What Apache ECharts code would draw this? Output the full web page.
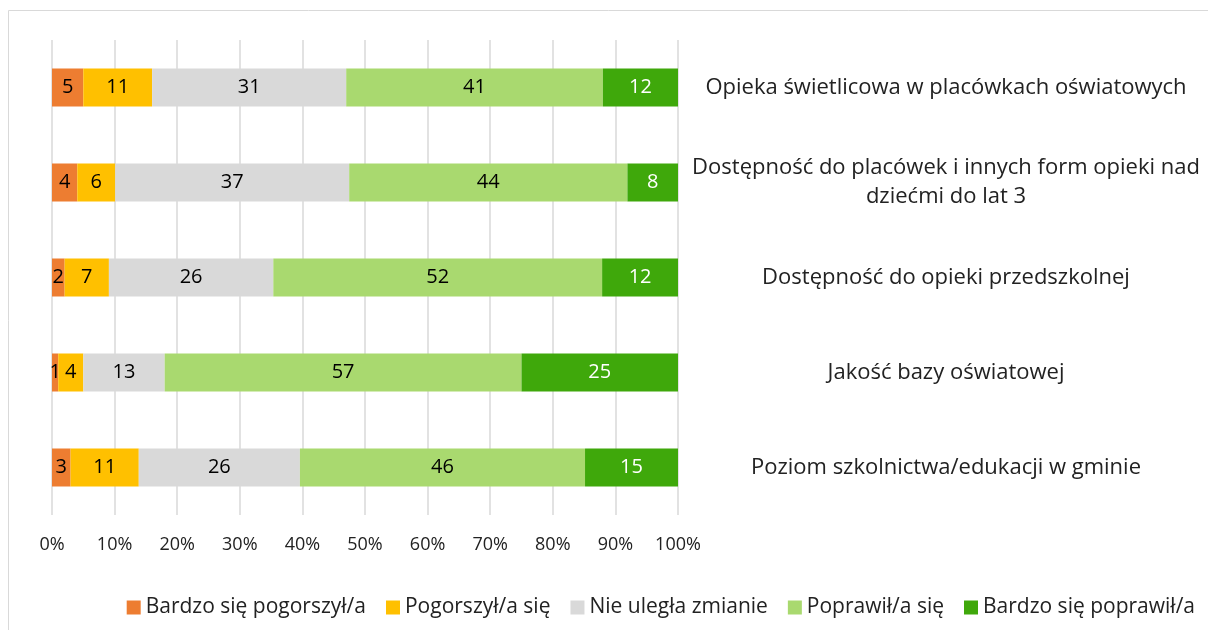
<!DOCTYPE html>
<html>
<head>
<meta charset="utf-8">
<script src="https://cdn.jsdelivr.net/npm/echarts@6/dist/echarts.min.js"></script>
<style>
  html, body { margin: 0; padding: 0; background: #fff; }
  #chart { width: 1208px; height: 630px; }
</style>
</head>
<body>
<div id="chart"></div>
<script>
// categories, top to bottom
const categories = [
  'Opieka świetlicowa w placówkach oświatowych',
  'Dostępność do placówek i innych form opieki nad\ndziećmi do lat 3',
  'Dostępność do opieki przedszkolnej',
  'Jakość bazy oświatowej',
  'Poziom szkolnictwa/edukacji w gminie'
]
const seriesNames = [
  'Bardzo się pogorszył/a',
  'Pogorszył/a się',
  'Nie uległa zmianie',
  'Poprawił/a się',
  'Bardzo się poprawił/a'
]
const bardzoGorzej = [5, 4, 2, 1, 3]
const gorzej = [11, 6, 7, 4, 11]
const bezZmian = [31, 37, 26, 13, 26]
const lepiej = [41, 44, 52, 57, 46]
const bardzoLepiej = [12, 8, 12, 25, 15]
const tickLabels = ['0%', '10%', '20%', '30%', '40%', '50%', '60%', '70%', '80%', '90%', '100%']

const colors = ['#ED7D31', '#FFC000', '#D9D9D9', '#A9D96F', '#3FA80B']
const labelColors = ['#000', '#000', '#000', '#000', '#fff']
const FONT = 'Open Sans'

const raw = [bardzoGorzej, gorzej, bezZmian, lepiej, bardzoLepiej]
// bars are shown as share of the row total (100% stacked)
const totals = categories.map((c, i) => raw.reduce((s, arr) => s + arr[i], 0))

const chart = echarts.init(document.getElementById('chart'))

const series = raw.map((arr, k) => {
  return {
    type: 'bar',
    name: seriesNames[k],
    stack: 'all',
    barWidth: '40%',
    data: arr.map((v, i) => ({ value: v / totals[i] * 100, raw: v })),
    itemStyle: { color: colors[k] },
    label: {
      show: true,
      position: 'inside',
      fontFamily: FONT,
      fontSize: 20,
      color: labelColors[k],
      formatter: p => p.data.raw
    }
  }
})

chart.setOption({
  animation: false,
  color: colors,
  graphic: [{
    type: 'rect',
    shape: { x: 8.5, y: 10.5, width: 1400, height: 800 },
    style: { fill: 'none', stroke: '#D9D9D9', lineWidth: 1 },
    silent: true
  }],
  grid: {
    left: 52,
    right: 530,
    top: 40,
    bottom: 115
  },
  legend: {
    right: 8,
    top: 592,
    itemWidth: 14,
    itemHeight: 14,
    itemGap: 20,
    icon: 'rect',
    textStyle: {
      fontFamily: FONT,
      fontSize: 21,
      color: '#222'
    },
    data: seriesNames
  },
  xAxis: {
    type: 'value',
    min: 0,
    max: 100,
    interval: 10,
    axisLine: { show: false },
    axisTick: { show: false },
    axisLabel: {
      margin: 21,
      fontFamily: FONT,
      fontSize: 18,
      color: '#222',
      formatter: v => tickLabels[Math.round(v / 10)]
    },
    splitLine: {
      lineStyle: { color: '#D9D9D9', width: 1.5 }
    }
  },
  yAxis: {
    type: 'category',
    data: categories,
    inverse: true,
    position: 'right',
    axisLine: { show: false },
    axisTick: { show: false },
    axisLabel: {
      margin: 268,
      align: 'center',
      fontFamily: FONT,
      fontSize: 22,
      lineHeight: 29,
      color: '#222'
    }
  },
  series: series
})
</script>
</body>
</html>
